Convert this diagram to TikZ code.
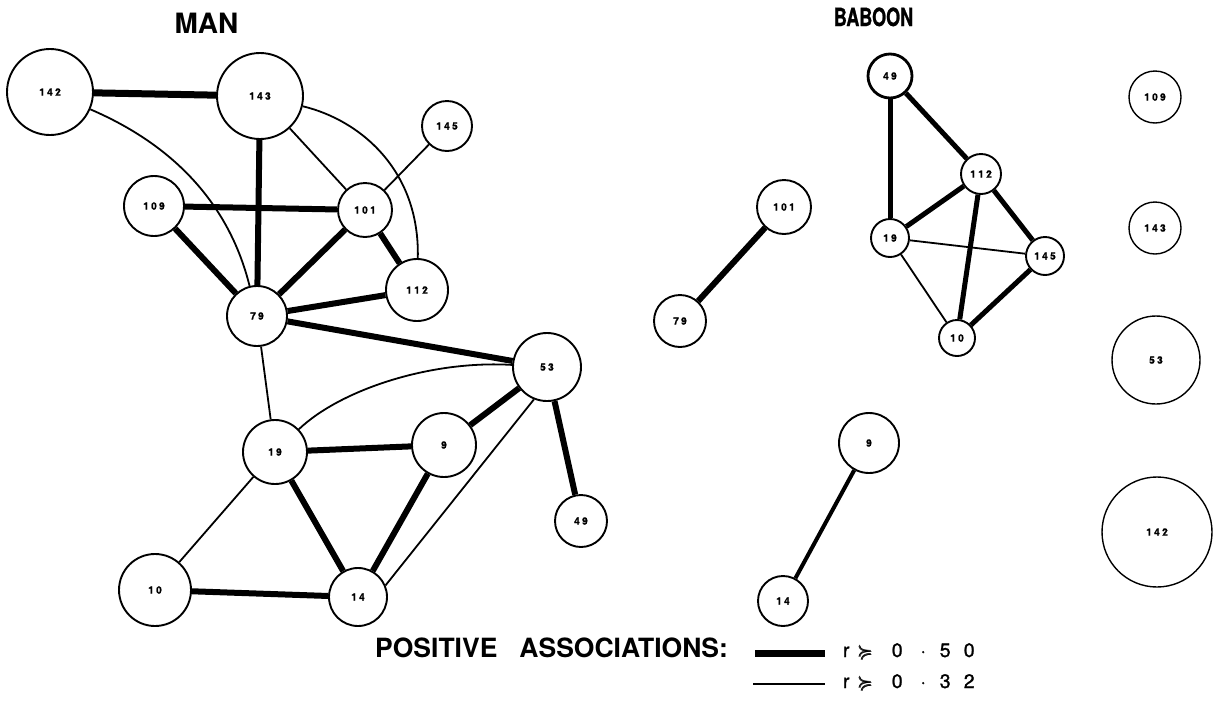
\documentclass[tikz,border=0pt]{standalone}
\usepackage{amssymb}
\usepackage{bm}
\usepackage{fontspec}
\setmainfont{TeX Gyre Heros}
\newfontfamily\lblfont{TeX Gyre Heros}[LetterSpace=24, FakeBold=1.5]
\newfontfamily\condfont{TeX Gyre Heros}[FakeStretch=0.72, FakeBold=1]
\newfontfamily\keyfont{TeX Gyre Heros}[FakeBold=1.2]
\pgfdeclarelayer{bg}
\pgfsetlayers{bg,main}
\tikzset{
  vtx/.style={circle, draw, line width=1.9pt, fill=white, inner sep=0pt,
    font=\lblfont\bfseries\fontsize{10}{10}\selectfont},
  faint/.style={vtx, line width=1.4pt},
  strong/.style={line width=6pt},
  weak/.style={line width=1.8pt},
  title/.style={font=\bfseries\fontsize{28}{28}\selectfont, inner sep=0pt, anchor=base},
  keynum/.style={inner sep=0pt, anchor=base west, font=\keyfont\fontsize{19.5}{19.5}\selectfont},
}
\begin{document}
\begin{tikzpicture}[x=1pt, y=-1pt]
\useasboundingbox (0,0) rectangle (1218,702);

% ---------------- MAN ----------------
\node[title] (tman) at (206.5,33) {MAN};
\node[vtx, minimum size=86] (m142) at (50,92)   {142};
\node[vtx, minimum size=86] (m143) at (260,96)  {143};
\node[vtx, minimum size=50] (m145) at (447,126) {145};
\node[vtx, minimum size=60] (m109) at (154,206) {109};
\node[vtx, minimum size=54] (m101) at (365,210) {101};
\node[vtx, minimum size=62] (m112) at (417,290) {112};
\node[vtx, minimum size=60] (m79)  at (257,316) {79};
\node[vtx, minimum size=68] (m53)  at (547,367) {53};
\node[vtx, minimum size=64] (m9)   at (444,445) {9};
\node[vtx, minimum size=64] (m19)  at (275,452) {19};
\node[vtx, minimum size=52] (m49)  at (581,521) {49};
\node[vtx, minimum size=72] (m10)  at (155,590) {10};
\node[vtx, minimum size=58] (m14)  at (358,597) {14};

\begin{pgfonlayer}{bg}
  \draw[line width=7pt] (m142) -- (m143);
  \draw[weak] (m142) .. controls (185,150) and (232,215) .. (m79);
  \draw[strong] (m143) -- (m79);
  \draw[weak] (m143) -- (m101);
  \draw[weak] (m143) .. controls (360,120) and (420,170) .. (m112);
  \draw[weak] (m145) -- (m101);
  \draw[strong] (m109) -- (m101);
  \draw[strong] (m109) -- (m79);
  \draw[strong] (m101) -- (m79);
  \draw[strong] (m101) -- (m112);
  \draw[strong] (m79) -- (m112);
  \draw[strong] (m79) -- (m53);
  \draw[weak] (m79) -- (m19);
  \draw[weak] (m19) .. controls (340,390) and (430,360) .. (m53);
  \draw[strong] (m19) -- (m9);
  \draw[strong] (m9) -- (m53);
  \draw[strong] (m53) -- (m49);
  \draw[weak] (m53.-112) -- (m14.23);
  \draw[weak] (m19) -- (m10);
  \draw[strong] (m19) -- (m14);
  \draw[strong] (m9) -- (m14);
  \draw[strong] (m10) -- (m14);
\end{pgfonlayer}

% ---------------- BABOON ----------------
\node[title, font=\condfont\bfseries\fontsize{25}{25}\selectfont] (tbab) at (873.5,26) {BABOON};
\node[vtx, minimum size=44, line width=2.8pt] (b49) at (890,76) {49};
\node[vtx, minimum size=40] (b112) at (981,174)  {112};
\node[vtx, minimum size=38] (b19)  at (890,238)  {19};
\node[vtx, minimum size=38] (b145) at (1045,256) {145};
\node[vtx, minimum size=36] (b10)  at (957,338)  {10};
\node[vtx, minimum size=54] (b101) at (784,207)  {101};
\node[vtx, minimum size=52] (b79)  at (680,321)  {79};
\node[vtx, minimum size=60] (b9)   at (869,443)  {9};
\node[vtx, minimum size=50] (b14)  at (783,601)  {14};
\node[faint, minimum size=52]  (b109) at (1155,97)  {109};
\node[faint, minimum size=52]  (b143) at (1155,228) {143};
\node[faint, minimum size=88]  (b53)  at (1156,360) {53};
\node[faint, minimum size=110] (b142) at (1157,532) {142};

\begin{pgfonlayer}{bg}
  \draw[strong] (b101) -- (b79);
  \draw[line width=5pt] (b49) -- (b19);
  \draw[line width=5pt] (b49) -- (b112);
  \draw[line width=5pt] (b112) -- (b19);
  \draw[line width=5pt] (b112) -- (b145);
  \draw[line width=5pt] (b112) -- (b10);
  \draw[weak] (b19) -- (b145);
  \draw[weak] (b19) -- (b10);
  \draw[line width=5pt] (b145) -- (b10);
  \draw[line width=4pt] (b9) -- (b14);
\end{pgfonlayer}

% ---------------- key ----------------
\node[inner sep=0pt, anchor=base west, font=\bfseries\fontsize{26.5}{26.5}\selectfont]
  (key) at (375,657) {POSITIVE\hspace{22pt}ASSOCIATIONS:};
\coordinate (ka1) at (755,653);
\coordinate (kb1) at (825,653);
\coordinate (ka2) at (753,684);
\coordinate (kb2) at (825,684);
\draw[line width=7pt] (ka1) -- (kb1);
\draw[weak] (ka2) -- (kb2);
\node[keynum] (k50) at (836,657)
  {\makebox[20pt]{r}\makebox[18pt]{$\bm{\succcurlyeq}$}\makebox[46pt]{0}\makebox[6pt]{·}\makebox[38pt]{5}\makebox[10pt]{0}};
\node[keynum] (k32) at (836,688)
  {\makebox[20pt]{r}\makebox[18pt]{$\bm{\succcurlyeq}$}\makebox[46pt]{0}\makebox[6pt]{·}\makebox[38pt]{3}\makebox[10pt]{2}};
\end{tikzpicture}
\end{document}
